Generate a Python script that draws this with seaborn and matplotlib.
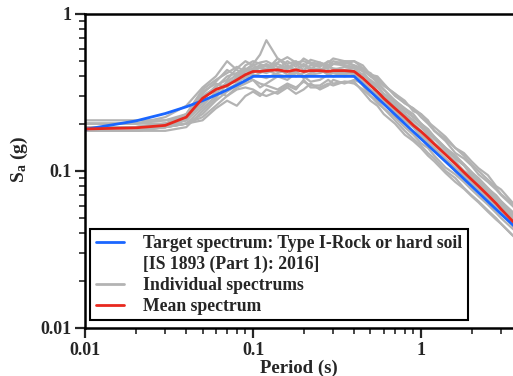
import matplotlib
matplotlib.use("Agg")
import matplotlib.pyplot as plt
import pandas as pd
import seaborn as sns
from matplotlib.lines import Line2D

# period grid (s) for the individual records and the mean
periods = [0.01, 0.02, 0.03, 0.04, 0.05, 0.06, 0.07, 0.08, 0.09, 0.1,
           0.11, 0.12, 0.14, 0.16, 0.18, 0.2, 0.22, 0.25, 0.28, 0.3,
           0.35, 0.4, 0.45, 0.5, 0.55, 0.6, 0.7, 0.8, 0.9, 1.0,
           1.1, 1.2, 1.4, 1.6, 1.8, 2.0, 2.2, 2.5, 2.8, 3.0,
           3.5, 4.0]

rec1 = [0.19, 0.19, 0.20, 0.21, 0.28, 0.35, 0.38, 0.45, 0.50, 0.47, 0.45, 0.44, 0.52, 0.48, 0.50, 0.46, 0.51, 0.49, 0.47, 0.50, 0.48, 0.50, 0.47, 0.41, 0.36, 0.33, 0.28, 0.25, 0.22, 0.20, 0.18, 0.165, 0.14, 0.125, 0.11, 0.098, 0.088, 0.077, 0.070, 0.064, 0.055, 0.048]
rec2 = [0.18, 0.18, 0.19, 0.20, 0.25, 0.30, 0.33, 0.36, 0.40, 0.38, 0.34, 0.36, 0.40, 0.38, 0.42, 0.40, 0.37, 0.38, 0.41, 0.40, 0.41, 0.40, 0.35, 0.30, 0.28, 0.25, 0.22, 0.19, 0.17, 0.15, 0.14, 0.125, 0.105, 0.095, 0.085, 0.076, 0.069, 0.061, 0.054, 0.050, 0.043, 0.038]
rec3 = [0.21, 0.21, 0.21, 0.23, 0.32, 0.36, 0.34, 0.40, 0.44, 0.48, 0.55, 0.68, 0.52, 0.46, 0.44, 0.48, 0.45, 0.44, 0.47, 0.44, 0.46, 0.45, 0.41, 0.37, 0.32, 0.30, 0.26, 0.23, 0.21, 0.19, 0.17, 0.15, 0.13, 0.115, 0.10, 0.092, 0.084, 0.075, 0.066, 0.061, 0.052, 0.045]
rec4 = [0.19, 0.19, 0.19, 0.20, 0.22, 0.26, 0.30, 0.34, 0.36, 0.38, 0.36, 0.35, 0.33, 0.36, 0.34, 0.37, 0.35, 0.35, 0.38, 0.36, 0.37, 0.37, 0.32, 0.28, 0.26, 0.23, 0.20, 0.17, 0.155, 0.14, 0.125, 0.115, 0.097, 0.085, 0.077, 0.069, 0.063, 0.055, 0.049, 0.046, 0.039, 0.035]
rec5 = [0.18, 0.18, 0.19, 0.22, 0.30, 0.34, 0.40, 0.42, 0.45, 0.42, 0.46, 0.48, 0.44, 0.50, 0.46, 0.52, 0.49, 0.48, 0.45, 0.48, 0.50, 0.47, 0.44, 0.42, 0.38, 0.35, 0.31, 0.27, 0.25, 0.22, 0.20, 0.18, 0.155, 0.13, 0.12, 0.108, 0.095, 0.085, 0.076, 0.070, 0.060, 0.052]
rec6 = [0.20, 0.20, 0.20, 0.21, 0.26, 0.32, 0.30, 0.33, 0.34, 0.33, 0.31, 0.30, 0.32, 0.35, 0.33, 0.38, 0.34, 0.34, 0.36, 0.35, 0.37, 0.36, 0.33, 0.30, 0.27, 0.25, 0.21, 0.18, 0.16, 0.145, 0.13, 0.12, 0.10, 0.09, 0.078, 0.070, 0.064, 0.056, 0.050, 0.046, 0.039, 0.034]
rec7 = [0.19, 0.19, 0.20, 0.23, 0.33, 0.38, 0.42, 0.46, 0.43, 0.47, 0.49, 0.50, 0.46, 0.45, 0.48, 0.44, 0.47, 0.46, 0.50, 0.48, 0.47, 0.46, 0.43, 0.37, 0.34, 0.31, 0.27, 0.23, 0.21, 0.19, 0.175, 0.16, 0.135, 0.12, 0.108, 0.094, 0.087, 0.074, 0.066, 0.060, 0.051, 0.044]
rec8 = [0.18, 0.18, 0.18, 0.19, 0.24, 0.29, 0.36, 0.39, 0.43, 0.45, 0.43, 0.42, 0.45, 0.41, 0.43, 0.40, 0.42, 0.44, 0.41, 0.42, 0.40, 0.41, 0.39, 0.36, 0.31, 0.29, 0.25, 0.23, 0.20, 0.18, 0.165, 0.15, 0.13, 0.112, 0.10, 0.092, 0.082, 0.072, 0.063, 0.059, 0.050, 0.043]
rec9 = [0.20, 0.20, 0.21, 0.22, 0.27, 0.31, 0.37, 0.41, 0.38, 0.44, 0.46, 0.47, 0.43, 0.47, 0.44, 0.47, 0.45, 0.43, 0.46, 0.45, 0.44, 0.45, 0.44, 0.40, 0.39, 0.35, 0.31, 0.28, 0.24, 0.23, 0.21, 0.18, 0.16, 0.14, 0.125, 0.11, 0.10, 0.088, 0.078, 0.071, 0.062, 0.054]
rec10 = [0.19, 0.19, 0.19, 0.21, 0.29, 0.33, 0.36, 0.37, 0.40, 0.41, 0.40, 0.39, 0.42, 0.44, 0.40, 0.42, 0.44, 0.45, 0.41, 0.43, 0.42, 0.42, 0.37, 0.33, 0.31, 0.28, 0.24, 0.21, 0.19, 0.17, 0.155, 0.14, 0.12, 0.105, 0.094, 0.084, 0.077, 0.067, 0.060, 0.054, 0.046, 0.039]
rec11 = [0.18, 0.18, 0.19, 0.20, 0.23, 0.28, 0.32, 0.35, 0.37, 0.40, 0.42, 0.44, 0.41, 0.40, 0.43, 0.39, 0.41, 0.42, 0.44, 0.42, 0.42, 0.43, 0.41, 0.38, 0.35, 0.31, 0.28, 0.24, 0.22, 0.20, 0.18, 0.16, 0.14, 0.12, 0.11, 0.098, 0.088, 0.076, 0.068, 0.063, 0.053, 0.046]
rec12 = [0.19, 0.19, 0.20, 0.22, 0.31, 0.37, 0.44, 0.40, 0.47, 0.50, 0.48, 0.46, 0.49, 0.53, 0.49, 0.50, 0.48, 0.47, 0.49, 0.52, 0.50, 0.50, 0.45, 0.40, 0.37, 0.33, 0.28, 0.25, 0.23, 0.20, 0.185, 0.165, 0.14, 0.125, 0.11, 0.098, 0.09, 0.078, 0.069, 0.064, 0.054, 0.047]
rec13 = [0.19, 0.19, 0.19, 0.20, 0.21, 0.25, 0.28, 0.26, 0.30, 0.32, 0.30, 0.33, 0.31, 0.34, 0.31, 0.33, 0.36, 0.33, 0.35, 0.38, 0.36, 0.38, 0.36, 0.33, 0.30, 0.27, 0.23, 0.21, 0.19, 0.165, 0.15, 0.14, 0.118, 0.10, 0.092, 0.082, 0.076, 0.066, 0.058, 0.054, 0.045, 0.039]
rec14 = [0.20, 0.20, 0.22, 0.26, 0.34, 0.40, 0.50, 0.44, 0.41, 0.45, 0.47, 0.44, 0.48, 0.45, 0.49, 0.47, 0.44, 0.49, 0.46, 0.48, 0.49, 0.47, 0.45, 0.41, 0.40, 0.36, 0.30, 0.27, 0.25, 0.23, 0.205, 0.19, 0.165, 0.14, 0.13, 0.115, 0.104, 0.094, 0.080, 0.076, 0.063, 0.055]
records = [rec1, rec2, rec3, rec4, rec5, rec6, rec7, rec8, rec9, rec10, rec11, rec12, rec13, rec14]

mean_sa = [0.185, 0.188, 0.195, 0.22, 0.29, 0.33, 0.35, 0.38, 0.41, 0.43,
           0.43, 0.435, 0.44, 0.43, 0.44, 0.43, 0.435, 0.435, 0.43, 0.435,
           0.435, 0.43, 0.39, 0.35, 0.32, 0.29, 0.25, 0.22, 0.195, 0.178,
           0.162, 0.148, 0.127, 0.111, 0.098, 0.088, 0.080, 0.070, 0.062, 0.057,
           0.048, 0.042]

# target spectrum points (IS 1893, Type I rock)
target_T = [0.01, 0.02, 0.03, 0.04, 0.05, 0.06, 0.07, 0.08, 0.09, 0.1,
            0.4, 0.5, 0.6, 0.8, 1.0, 1.5, 2.0, 3.0, 4.0]
target_sa = [0.184, 0.208, 0.232, 0.256, 0.28, 0.304, 0.328, 0.352, 0.376, 0.4,
             0.4, 0.32, 0.267, 0.2, 0.16, 0.107, 0.08, 0.053, 0.04]

blue = "#1a66ff"
red = "#e8281e"
grey = "#b3b3b3"

sns.set_style("ticks")
plt.rcParams["font.family"] = ["Liberation Serif", "DejaVu Serif"]
plt.rcParams["font.weight"] = "bold"
plt.rcParams["mathtext.fontset"] = "custom"
plt.rcParams["mathtext.rm"] = "Liberation Serif:bold"
plt.rcParams["mathtext.it"] = "Liberation Serif:bold"
plt.rcParams["mathtext.bf"] = "Liberation Serif:bold"

rows = []
for i, r in enumerate(records):
    for t, v in zip(periods, r):
        rows.append({"rec": f"r{i}", "T": t, "Sa": v})
df = pd.DataFrame(rows)

fig = plt.figure(figsize=(5.13, 3.76), dpi=100)
ax = fig.add_axes([0.166, 0.128, 0.834, 0.835])

sns.lineplot(data=df, x="T", y="Sa", units="rec", estimator=None, color=grey,
             linewidth=1.6, ax=ax, legend=False)
sns.lineplot(x=target_T, y=target_sa, color=blue, linewidth=2.0, ax=ax, legend=False)
sns.lineplot(x=periods, y=mean_sa, color=red, linewidth=2.0, ax=ax, legend=False)

ax.set_xscale("log")
ax.set_yscale("log")
ax.set_xlim(0.01, 3.53)
ax.set_ylim(0.01, 1)
ax.set_xticks([0.01, 0.1, 1])
ax.set_xticklabels(["0.01", "0.1", "1"])
ax.set_yticks([0.01, 0.1, 1])
ax.set_yticklabels(["0.01", "0.1", "1"])

for s in ["left", "bottom", "top"]:
    ax.spines[s].set_linewidth(1.8)
    ax.spines[s].set_color("black")
ax.spines["right"].set_visible(False)
ax.tick_params(which="major", direction="out", length=7, width=1.6, labelsize=13, pad=3)
ax.tick_params(which="minor", direction="out", length=4, width=1.2)
ax.tick_params(top=False, right=False, which="both")

ax.set_xlabel("Period (s)", fontsize=13.5, fontweight="bold", labelpad=1)
ax.set_ylabel("S$_\\mathrm{a}$ (g)", fontsize=14, fontweight="bold", labelpad=8)
ax.yaxis.set_label_coords(-0.13, 0.535)

handles = [
    Line2D([], [], color=blue, linewidth=2.0),
    Line2D([], [], color="none", linewidth=0),
    Line2D([], [], color=grey, linewidth=2.0),
    Line2D([], [], color=red, linewidth=2.0),
]
labels = [
    "Target spectrum: Type I-Rock or hard soil",
    "[IS 1893 (Part 1): 2016]",
    "Individual spectrums",
    "Mean spectrum",
]
leg = ax.legend(handles, labels, loc="lower left", bbox_to_anchor=(0.012, 0.025),
                borderaxespad=0, frameon=True, fancybox=False, edgecolor="black",
                framealpha=1, prop={"weight": "bold", "size": 12.7},
                handlelength=1.6, handletextpad=1.1, labelspacing=0.22,
                borderpad=0.3)
leg.get_frame().set_linewidth(1.5)

fig.savefig("out.png", dpi=100)
